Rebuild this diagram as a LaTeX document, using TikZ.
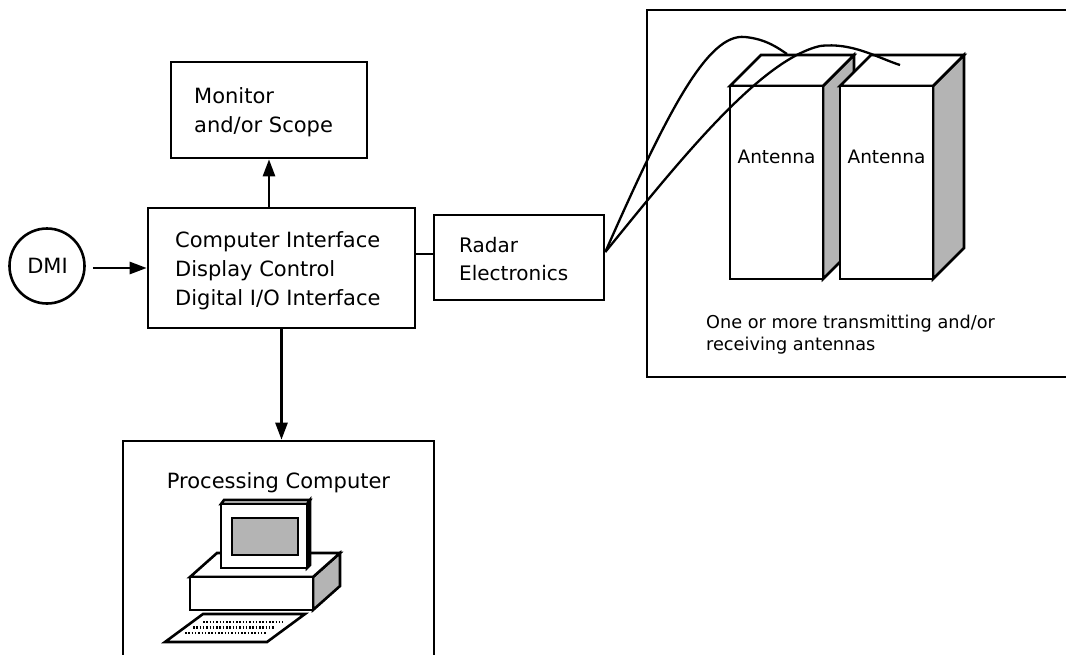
\documentclass[tikz,border=0pt]{standalone}
\usepackage{fontspec}
\setmainfont{DejaVu Sans}
\usetikzlibrary{arrows.meta}
\definecolor{sidegray}{RGB}{180,180,180}
\tikzset{
  box/.style={draw, line width=2.6pt, fill=white, inner sep=0pt, minimum width=#1},
  lbl/.style={anchor=base west, inner sep=0pt, font=\fontsize{21}{25}\selectfont},
  lblc/.style={anchor=base, inner sep=0pt},
  wire/.style={line width=2.6pt},
  arr/.style={line width=2.6pt, -{Triangle[length=17pt,width=12pt]}},
  face/.style={draw, line width=2.6pt, line join=miter, fill=white},
  side/.style={draw, line width=2.6pt, line join=miter, fill=sidegray},
  cable/.style={line width=2.3pt},
  keys/.style={line width=2.2pt, dash pattern=on 1.5pt off 1.8pt}
}
\begin{document}
\begin{tikzpicture}[x=1pt,y=-1pt]
\useasboundingbox (0,0) rectangle (1066,654);
\fill[white] (0,0) rectangle (1066,654);

% ---- blocks
\node[box=196pt, minimum height=96pt] (mon) at (269,110) {};
\node[box=267pt, minimum height=120pt] (ci) at (281.5,268) {};
\node[draw, line width=2.6pt, circle, minimum size=75pt, inner sep=0pt] (dmi) at (47,266) {};
\node[box=170pt, minimum height=85pt] (radar) at (519,257.5) {};
\node[box=311pt, minimum height=232pt] (pc) at (278.5,557) {};
\node[box=430pt, minimum height=367pt] (antbox) at (862,193.5) {};

% ---- texts
\node[lbl] (t1) at (194,103) {Monitor};
\node[lbl] (t2) at (194,132) {and/or Scope};
\node[lbl] (t3) at (175,247) {Computer Interface};
\node[lbl] (t4) at (175,276) {Display Control};
\node[lbl] (t5) at (175,305) {Digital I/O Interface};
\node[lblc, font=\fontsize{21}{25}\selectfont] (t6) at (47.5,273) {DMI};
\node[lbl, font=\fontsize{20}{24}\selectfont] (t7) at (459,252) {Radar};
\node[lbl, font=\fontsize{20}{24}\selectfont] (t8) at (459,280) {Electronics};
\node[lblc, font=\fontsize{21}{25}\selectfont] (t9) at (278.5,488) {Processing Computer};
\node[lbl, font=\fontsize{17.7}{22}\selectfont] (t10) at (706,328) {One or more transmitting and/or};
\node[lbl, font=\fontsize{17.7}{22}\selectfont] (t11) at (706,350) {receiving antennas};

% ---- connectors
\path (dmi.east) ++(7,2) coordinate (dmiout);
\draw[arr] (mon.south |- ci.north) -- (mon.south);
\draw[arr] (dmiout) -- (dmiout -| ci.west);
\draw[arr] (ci.south) -- (ci.south |- pc.north);
\path (ci.east |- 0,254) coordinate (cir);
\draw[wire] (cir) -- (cir -| radar.west);

% ---- antennas
\path[side] (823,86) -- (854,55) -- (854,248) -- (823,279) -- cycle;
\path[face] (730,86) -- (761,55) -- (854,55) -- (823,86) -- cycle;
\node[draw, line width=2.6pt, fill=white, minimum width=93pt, minimum height=193pt, inner sep=0pt] (a1) at (776.5,182.5) {};
\node[lblc, font=\fontsize{18.5}{22}\selectfont] (a1t) at (a1.center |- 0,163) {Antenna};
\path[side] (933,86) -- (964,55) -- (964,248) -- (933,279) -- cycle;
\path[face] (840,86) -- (871,55) -- (964,55) -- (933,86) -- cycle;
\node[draw, line width=2.6pt, fill=white, minimum width=93pt, minimum height=193pt, inner sep=0pt] (a2) at (886.5,182.5) {};
\node[lblc, font=\fontsize{18.5}{22}\selectfont] (a2t) at (a2.center |- 0,163) {Antenna};

% ---- cables
\coordinate (rout) at (radar.east |- 0,252);
\draw[cable] (rout) .. controls (668,110) and (708,33) .. (745,37) .. controls (766,39) and (778,48) .. (787,54);
\draw[cable] (rout) .. controls (680,160) and (760,60) .. (820,46) .. controls (852,42) and (878,58) .. (900,65);

% ---- computer drawing
\path[side] (313,577) -- (340,553) -- (340,586) -- (313,610) -- cycle;
\path[face] (190,577) -- (217,553) -- (340,553) -- (313,577) -- cycle;
\path[face] (190,577) rectangle (313,610);
\path[side] (307,504) -- (310,500) -- (310,565) -- (307,568) -- cycle;
\path[face] (221,504) -- (224,500) -- (310,500) -- (307,504) -- cycle;
\path[face] (221,504) rectangle (307,568);
\path[side] (232,518) rectangle (298,555);
\path[face] (165,642) -- (267,642) -- (305,614) -- (203,614) -- cycle;
\draw[keys] (203,622) -- (283,622);
\draw[keys] (193,627.5) -- (275,627.5);
\draw[keys] (185,633) -- (267,633);
\end{tikzpicture}
\end{document}
